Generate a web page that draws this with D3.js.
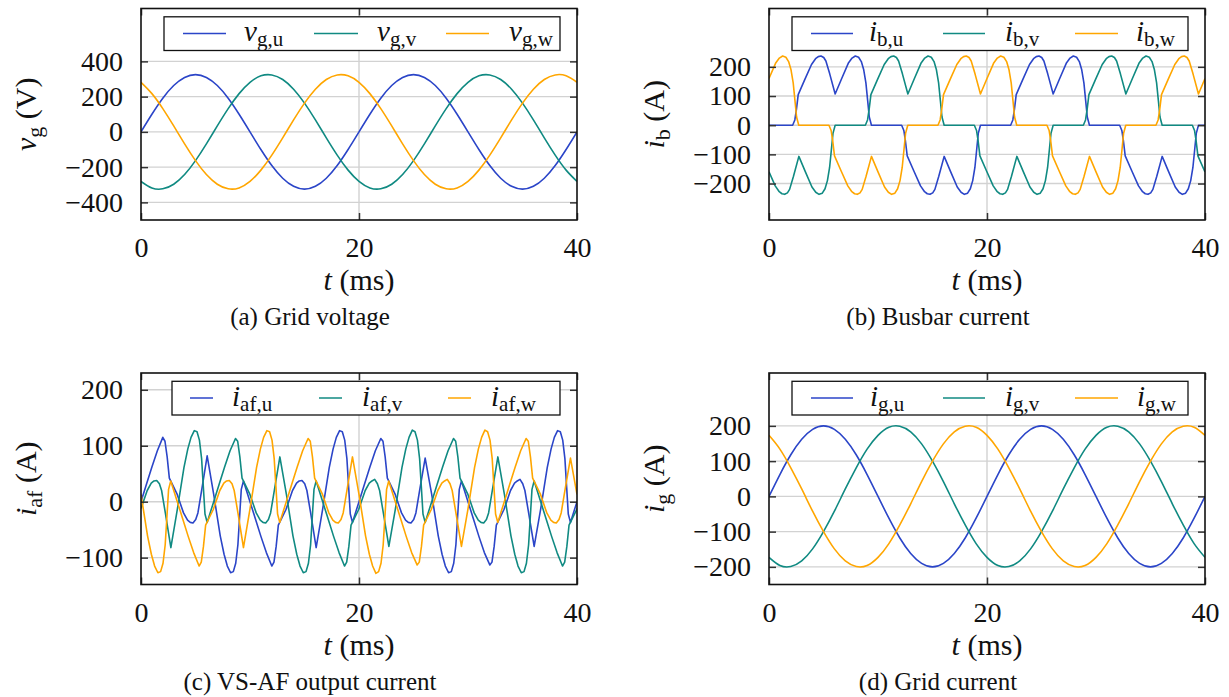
<!DOCTYPE html>
<html>
<head>
<meta charset="utf-8">
<script src="https://cdn.jsdelivr.net/npm/d3@7"></script>
<style>
  body { margin: 0; background: #fff; }
  svg { display: block; }
</style>
</head>
<body>
<svg id="chart" width="1229" height="697"></svg>
<script>
// time base (ms) for the sinusoidal panels
const tMs = [0,1,2,3,4,5,6,7,8,9,10,11,12,13,14,15,16,17,18,19,20,
             21,22,23,24,25,26,27,28,29,30,31,32,33,34,35,36,37,38,39,40];

// (a) grid voltage, V
const vgU = [0,100,191,263,309,325,309,263,191,100,0,-100,-191,-263,-309,-325,-309,-263,-191,-100,
             0,100,191,263,309,325,309,263,191,100,0,-100,-191,-263,-309,-325,-309,-263,-191,-100,0];
const vgV = [-281,-318,-323,-297,-242,-163,-68,34,132,217,281,318,323,297,242,163,68,-34,-132,-217,
             -281,-318,-323,-297,-242,-163,-68,34,132,217,281,318,323,297,242,163,68,-34,-132,-217,-281];
const vgW = [281,217,132,34,-68,-163,-242,-297,-323,-318,-281,-217,-132,-34,68,163,242,297,323,318,
             281,217,132,34,-68,-163,-242,-297,-323,-318,-281,-217,-132,-34,68,163,242,297,323,318,281];

// (d) grid current, A
const igU = [0,62,118,162,190,200,190,162,118,62,0,-62,-118,-162,-190,-200,-190,-162,-118,-62,
             0,62,118,162,190,200,190,162,118,62,0,-62,-118,-162,-190,-200,-190,-162,-118,-62,0];
const igV = [-173,-196,-199,-183,-149,-100,-42,21,81,134,173,196,199,183,149,100,42,-21,-81,-134,
             -173,-196,-199,-183,-149,-100,-42,21,81,134,173,196,199,183,149,100,42,-21,-81,-134,-173];
const igW = [173,134,81,21,-42,-100,-149,-183,-199,-196,-173,-134,-81,-21,42,100,149,183,199,196,
             173,134,81,21,-42,-100,-149,-183,-199,-196,-173,-134,-81,-21,42,100,149,183,199,196,173];

// (b) busbar current, [t (ms), A]
const ibU = [[0,0],[2.17,0],[2.37,18],[2.52,55],[2.68,105],[3.30,158],[3.90,208],[4.27,228],[4.52,235],[4.77,237],[5.02,232],[5.22,220],[5.57,176],[6.07,107],[6.67,160],[7.27,212],[7.62,230],[7.92,237],[8.22,233],[8.47,218],[8.69,190],[8.89,145],[9.05,85],[9.20,28],[9.40,0],
  [12.17,0],[12.37,-18],[12.52,-55],[12.68,-105],[13.30,-158],[13.90,-208],[14.27,-228],[14.52,-235],[14.77,-237],[15.02,-232],[15.22,-220],[15.57,-176],[16.07,-107],[16.67,-160],[17.27,-212],[17.62,-230],[17.92,-237],[18.22,-233],[18.47,-218],[18.69,-190],[18.89,-145],[19.05,-85],[19.20,-28],[19.40,0],
  [22.17,0],[22.37,18],[22.52,55],[22.68,105],[23.30,158],[23.90,208],[24.27,228],[24.52,235],[24.77,237],[25.02,232],[25.22,220],[25.57,176],[26.07,107],[26.67,160],[27.27,212],[27.62,230],[27.92,237],[28.22,233],[28.47,218],[28.69,190],[28.89,145],[29.05,85],[29.20,28],[29.40,0],
  [32.17,0],[32.37,-18],[32.52,-55],[32.68,-105],[33.30,-158],[33.90,-208],[34.27,-228],[34.52,-235],[34.77,-237],[35.02,-232],[35.22,-220],[35.57,-176],[36.07,-107],[36.67,-160],[37.27,-212],[37.62,-230],[37.92,-237],[38.22,-233],[38.47,-218],[38.69,-190],[38.89,-145],[39.05,-85],[39.20,-28],[39.40,0],[40,0]];
const ibV = [[0,-160],[0.57,-208],[0.94,-228],[1.19,-235],[1.44,-237],[1.69,-232],[1.89,-220],[2.24,-176],[2.74,-107],[3.34,-160],[3.94,-212],[4.29,-230],[4.59,-237],[4.89,-233],[5.14,-218],[5.36,-190],[5.56,-145],[5.72,-85],[5.87,-28],[6.07,0],
  [8.84,0],[9.04,18],[9.19,55],[9.35,105],[9.97,158],[10.57,208],[10.94,228],[11.19,235],[11.44,237],[11.69,232],[11.89,220],[12.24,176],[12.74,107],[13.34,160],[13.94,212],[14.29,230],[14.59,237],[14.89,233],[15.14,218],[15.36,190],[15.56,145],[15.72,85],[15.87,28],[16.07,0],
  [18.84,0],[19.04,-18],[19.19,-55],[19.35,-105],[19.97,-158],[20.57,-208],[20.94,-228],[21.19,-235],[21.44,-237],[21.69,-232],[21.89,-220],[22.24,-176],[22.74,-107],[23.34,-160],[23.94,-212],[24.29,-230],[24.59,-237],[24.89,-233],[25.14,-218],[25.36,-190],[25.56,-145],[25.72,-85],[25.87,-28],[26.07,0],
  [28.84,0],[29.04,18],[29.19,55],[29.35,105],[29.97,158],[30.57,208],[30.94,228],[31.19,235],[31.44,237],[31.69,232],[31.89,220],[32.24,176],[32.74,107],[33.34,160],[33.94,212],[34.29,230],[34.59,237],[34.89,233],[35.14,218],[35.36,190],[35.56,145],[35.72,85],[35.87,28],[36.07,0],
  [38.84,0],[39.04,-18],[39.19,-55],[39.35,-105],[39.97,-158],[40,-160]];
const ibW = [[0,160],[0.60,212],[0.95,230],[1.25,237],[1.55,233],[1.80,218],[2.02,190],[2.22,145],[2.38,85],[2.53,28],[2.73,0],
  [5.50,0],[5.70,-18],[5.85,-55],[6.01,-105],[6.63,-158],[7.23,-208],[7.60,-228],[7.85,-235],[8.10,-237],[8.35,-232],[8.55,-220],[8.90,-176],[9.40,-107],[10.00,-160],[10.60,-212],[10.95,-230],[11.25,-237],[11.55,-233],[11.80,-218],[12.02,-190],[12.22,-145],[12.38,-85],[12.53,-28],[12.73,0],
  [15.50,0],[15.70,18],[15.85,55],[16.01,105],[16.63,158],[17.23,208],[17.60,228],[17.85,235],[18.10,237],[18.35,232],[18.55,220],[18.90,176],[19.40,107],[20.00,160],[20.60,212],[20.95,230],[21.25,237],[21.55,233],[21.80,218],[22.02,190],[22.22,145],[22.38,85],[22.53,28],[22.73,0],
  [25.50,0],[25.70,-18],[25.85,-55],[26.01,-105],[26.63,-158],[27.23,-208],[27.60,-228],[27.85,-235],[28.10,-237],[28.35,-232],[28.55,-220],[28.90,-176],[29.40,-107],[30.00,-160],[30.60,-212],[30.95,-230],[31.25,-237],[31.55,-233],[31.80,-218],[32.02,-190],[32.22,-145],[32.38,-85],[32.53,-28],[32.73,0],
  [35.50,0],[35.70,18],[35.85,55],[36.01,105],[36.63,158],[37.23,208],[37.60,228],[37.85,235],[38.10,237],[38.35,232],[38.55,220],[38.90,176],[39.40,107],[40,160]];

// (c) VS-AF output current, [t (ms), A]
const iafU = [[0,0],[0.5,31],[1,62],[1.5,91],[2,115],[2.2,108],[2.4,80],[2.6,42],[3.3,14],[3.9,-20],[4.27,-33],[4.52,-37],[4.77,-38],[5.02,-32],[5.22,-20],[5.57,21],[6.07,82],[6.67,13],[7.27,-61],[7.62,-94],[7.92,-115],[8.22,-127],[8.47,-125],[8.69,-110],[8.89,-77],[9.05,-26],[9.2,22],[9.4,37],[10,0],[10.5,-31],[11,-62],[11.5,-91],[12,-115],[12.2,-108],[12.4,-80],[12.6,-42],[13.3,-14],[13.9,20],[14.27,33],[14.52,37],[14.77,38],[15.02,32],[15.22,20],[15.57,-21],[16.07,-82],[16.67,-13],[17.27,61],[17.62,94],[17.92,115],[18.22,127],[18.47,125],[18.69,110],[18.89,77],[19.05,26],[19.2,-22],[19.4,-37],[20,0],
  [20.5,31],[21,62],[21.5,91],[22,113],[22.2,108],[22.4,80],[22.6,42],[23.3,14],[23.9,-20],[24.27,-33],[24.52,-37],[24.77,-38],[25.02,-32],[25.22,-20],[25.57,21],[26.07,78],[26.67,13],[27.27,-61],[27.62,-94],[27.92,-115],[28.22,-127],[28.47,-125],[28.69,-110],[28.89,-77],[29.05,-26],[29.2,22],[29.4,37],[30,0],[30.5,-31],[31,-62],[31.5,-91],[32,-113],[32.2,-108],[32.4,-80],[32.6,-42],[33.3,-14],[33.9,20],[34.27,33],[34.52,37],[34.77,40],[35.02,32],[35.22,20],[35.57,-21],[36.07,-80],[36.67,-13],[37.27,61],[37.62,94],[37.92,115],[38.22,127],[38.47,125],[38.69,110],[38.89,77],[39.05,26],[39.2,-22],[39.4,-37],[40,0]];
const iafV = [[0,-12],[0.57,20],[0.94,33],[1.19,37],[1.44,38],[1.69,32],[1.89,20],[2.24,-21],[2.74,-82],[3.34,-13],[3.94,61],[4.29,94],[4.59,115],[4.89,127],[5.14,125],[5.36,110],[5.56,77],[5.72,26],[5.87,-22],[6.07,-37],[6.67,0],[7.17,31],[7.67,62],[8.17,91],[8.67,113],[8.87,108],[9.07,80],[9.27,42],[9.97,14],[10.57,-20],[10.94,-33],[11.19,-37],[11.44,-38],[11.69,-32],[11.89,-20],[12.24,21],[12.74,80],[13.34,13],[13.94,-61],[14.29,-94],[14.59,-115],[14.89,-127],[15.14,-125],[15.36,-110],[15.56,-77],[15.72,-26],[15.87,22],[16.07,37],[16.67,0],[17.17,-31],[17.67,-62],[18.17,-91],[18.67,-115],[18.87,-108],[19.07,-80],[19.27,-42],[19.97,-14],
  [20.57,20],[20.94,33],[21.19,37],[21.44,40],[21.69,32],[21.89,20],[22.24,-21],[22.74,-80],[23.34,-13],[23.94,61],[24.29,94],[24.59,115],[24.89,128],[25.14,125],[25.36,110],[25.56,77],[25.72,26],[25.87,-22],[26.07,-37],[26.67,0],[27.17,31],[27.67,62],[28.17,91],[28.67,113],[28.87,108],[29.07,80],[29.27,42],[29.97,14],[30.57,-20],[30.94,-33],[31.19,-37],[31.44,-38],[31.69,-32],[31.89,-20],[32.24,21],[32.74,80],[33.34,13],[33.94,-61],[34.29,-94],[34.59,-115],[34.89,-127],[35.14,-125],[35.36,-110],[35.56,-77],[35.72,-26],[35.87,22],[36.07,37],[36.67,0],[37.17,-31],[37.67,-62],[38.17,-91],[38.67,-115],[38.87,-108],[39.07,-80],[39.27,-42],[39.97,-14],[40,-12]];
const iafW = [[0,13],[0.60,-61],[0.95,-94],[1.25,-115],[1.55,-127],[1.80,-125],[2.02,-110],[2.22,-77],[2.38,-26],[2.53,22],[2.73,37],[3.33,0],[3.83,-31],[4.33,-62],[4.83,-91],[5.33,-115],[5.53,-108],[5.73,-80],[5.93,-42],[6.63,-14],[7.23,20],[7.60,33],[7.85,37],[8.10,38],[8.35,32],[8.55,20],[8.90,-21],[9.40,-82],[10.00,-13],[10.60,61],[10.95,94],[11.25,115],[11.55,127],[11.80,125],[12.02,110],[12.22,77],[12.38,26],[12.53,-22],[12.73,-37],[13.33,0],[13.83,31],[14.33,62],[14.83,91],[15.33,113],[15.53,108],[15.73,80],[15.93,42],[16.63,14],[17.23,-20],[17.60,-33],[17.85,-37],[18.10,-38],[18.35,-32],[18.55,-20],[18.90,21],[19.40,80],[20.00,13],
  [20.60,-61],[20.95,-94],[21.25,-115],[21.55,-128],[21.80,-125],[22.02,-110],[22.22,-77],[22.38,-26],[22.53,22],[22.73,37],[23.33,0],[23.83,-31],[24.33,-62],[24.83,-91],[25.33,-113],[25.53,-108],[25.73,-80],[25.93,-42],[26.63,-14],[27.23,20],[27.60,33],[27.85,37],[28.10,40],[28.35,32],[28.55,20],[28.90,-21],[29.40,-80],[30.00,-13],[30.60,61],[30.95,94],[31.25,115],[31.55,128],[31.80,125],[32.02,110],[32.22,77],[32.38,26],[32.53,-22],[32.73,-37],[33.33,0],[33.83,31],[34.33,62],[34.83,91],[35.33,113],[35.53,108],[35.73,80],[35.93,42],[36.63,14],[37.23,-20],[37.60,-33],[37.85,-37],[38.10,-38],[38.35,-32],[38.55,-20],[38.90,21],[39.40,78],[40,13]];

const xTicks = [0, 20, 40];
const phaseColors = ["#2b45c8", "#108a82", "#ffa600"];
const serif = "'Liberation Serif', 'Times New Roman', Times, serif";

const svg = d3.select("#chart").attr("font-family", serif);
const panelW = 436, panelH = 211.5;

function fmtTick(d) {
    return d < 0 ? "\u2212" + Math.abs(d) : String(d);
}

// italic symbol + upright subscript (+ optional trailing text)
function mathLabel(text, sym, sub, rest, size, subSize, shift) {
    text.attr("font-size", size).attr("font-family", serif).attr("fill", "#111");
    text.append("tspan").attr("font-style", "italic").text(sym);
    text.append("tspan").attr("font-size", subSize).attr("dy", shift).text(sub);
    if (rest) {
        text.append("tspan").attr("dy", -shift).text(rest);
    }
    return text;
}

function drawPanel(p) {
    const g = svg.append("g");
    const x = d3.scaleLinear().domain([0, 40]).range([p.left, p.left + panelW]);
    const y = d3.scaleLinear().domain(p.yDomain).range([p.top + panelH, p.top]);
    const bottom = p.top + panelH;

    // grid
    g.append("g").selectAll("line").data(p.yTicks).join("line")
        .attr("x1", p.left).attr("x2", p.left + panelW)
        .attr("y1", d => y(d)).attr("y2", d => y(d))
        .attr("stroke", "#d2d2d2").attr("stroke-width", 1.4);
    g.append("line")
        .attr("x1", x(20)).attr("x2", x(20))
        .attr("y1", p.top).attr("y2", bottom)
        .attr("stroke", "#d2d2d2").attr("stroke-width", 1.4);

    // series
    const clipId = "clip-" + p.id;
    svg.append("clipPath").attr("id", clipId).append("rect")
        .attr("x", p.left).attr("y", p.top).attr("width", panelW).attr("height", panelH);
    const line = d3.line()
        .x(d => x(d[0]))
        .y(d => y(d[1]))
        .curve(p.curve);
    g.append("g").attr("clip-path", "url(#" + clipId + ")")
        .selectAll("path").data(p.series).join("path")
        .attr("d", d => line(d))
        .attr("fill", "none")
        .attr("stroke", (d, i) => phaseColors[i])
        .attr("stroke-width", 1.6)
        .attr("stroke-linejoin", "round");

    // axes: inward ticks, labels only on left and bottom
    const yAxisL = g.append("g").attr("transform", "translate(" + p.left + ",0)")
        .call(d3.axisLeft(y).tickValues(p.yTicks).tickSize(-7).tickPadding(18).tickFormat(fmtTick));
    const yAxisR = g.append("g").attr("transform", "translate(" + (p.left + panelW) + ",0)")
        .call(d3.axisRight(y).tickValues(p.yTicks).tickSize(-7).tickFormat(""));
    const xAxisB = g.append("g").attr("transform", "translate(0," + bottom + ")")
        .call(d3.axisBottom(x).tickValues(xTicks).tickSize(-7).tickPadding(17.5).tickFormat(d3.format("d")));
    const xAxisT = g.append("g").attr("transform", "translate(0," + p.top + ")")
        .call(d3.axisTop(x).tickValues(xTicks).tickSize(-7).tickFormat(""));
    [yAxisL, yAxisR, xAxisB, xAxisT].forEach(a => {
        a.select(".domain").remove();
        a.attr("font-family", serif).attr("font-size", 28);
        a.selectAll(".tick line").attr("stroke", "#333").attr("stroke-width", 1.5);
        a.selectAll(".tick text").attr("font-family", serif).attr("font-size", 28).attr("fill", "#111");
    });

    // legend
    const lg = p.legend;
    const ly0 = p.top + 8.3, ly1 = p.top + 42;
    const lineY = p.top + 25;
    g.append("rect")
        .attr("x", lg.x0).attr("y", ly0)
        .attr("width", lg.x1 - lg.x0).attr("height", ly1 - ly0)
        .attr("fill", "#fff").attr("stroke", "#111").attr("stroke-width", 1.3);
    p.legSub.forEach((s, i) => {
        g.append("line")
            .attr("x1", lg.lines[i][0]).attr("x2", lg.lines[i][1])
            .attr("y1", lineY).attr("y2", lineY)
            .attr("stroke", phaseColors[i]).attr("stroke-width", 1.5);
        mathLabel(g.append("text").attr("x", lg.labels[i]).attr("y", p.top + 32.5),
            p.sym, s, null, 29, 21, 5);
    });

    // frame
    g.append("rect")
        .attr("x", p.left).attr("y", p.top)
        .attr("width", panelW).attr("height", panelH)
        .attr("fill", "none").attr("stroke", "#111").attr("stroke-width", 1.6);

    // axis titles and caption
    const cx = p.left + panelW / 2;
    const tl = g.append("text").attr("x", cx).attr("y", bottom + 70)
        .attr("text-anchor", "middle").attr("font-size", 30)
        .attr("font-family", serif).attr("fill", "#111");
    tl.append("tspan").attr("font-style", "italic").text("t");
    tl.append("tspan").text("\u00a0(ms)");

    mathLabel(g.append("text")
            .attr("transform", "translate(" + (p.left - 105) + "," + (p.top + panelH / 2) + ") rotate(-90)")
            .attr("text-anchor", "middle"),
        p.sym, p.ySub, "\u00a0" + p.unit, 30, 22, 6);

    // caption is centred on the whole subfigure, y label included
    g.append("text").attr("x", cx - 49).attr("y", bottom + 105)
        .attr("text-anchor", "middle").attr("font-size", 25)
        .attr("font-family", serif).attr("fill", "#111")
        .text(p.caption);
}

const toPairs = vals => tMs.map((t, i) => [t, vals[i]]);

const panels = [
    {id: "a", left: 141, top: 8.5, yDomain: [-500, 700], yTicks: [-400, -200, 0, 200, 400],
     sym: "v", ySub: "g", unit: "(V)", legSub: ["g,u", "g,v", "g,w"], caption: "(a) Grid voltage",
     series: [toPairs(vgU), toPairs(vgV), toPairs(vgW)], curve: d3.curveNatural,
     legend: {x0: 164, x1: 560, lines: [[183, 226], [314, 358], [446, 489]], labels: [244, 377, 509]}},
    {id: "b", left: 769, top: 8.5, yDomain: [-325, 400], yTicks: [-200, -100, 0, 100, 200],
     sym: "i", ySub: "b", unit: "(A)", legSub: ["b,u", "b,v", "b,w"], caption: "(b) Busbar current",
     series: [ibU, ibV, ibW], curve: d3.curveLinear,
     legend: {x0: 792, x1: 1188, lines: [[811, 853], [943, 985], [1075, 1118]], labels: [869, 1005, 1136]}},
    {id: "c", left: 141, top: 373, yDomain: [-148, 230], yTicks: [-100, 0, 100, 200],
     sym: "i", ySub: "af", unit: "(A)", legSub: ["af,u", "af,v", "af,w"], caption: "(c) VS-AF output current",
     series: [iafU, iafV, iafW], curve: d3.curveLinear,
     legend: {x0: 172, x1: 560, lines: [[190, 213], [319, 342], [448, 471]], labels: [232, 362, 491]}},
    {id: "d", left: 769, top: 373, yDomain: [-250, 350], yTicks: [-200, -100, 0, 100, 200],
     sym: "i", ySub: "g", unit: "(A)", legSub: ["g,u", "g,v", "g,w"], caption: "(d) Grid current",
     series: [toPairs(igU), toPairs(igV), toPairs(igW)], curve: d3.curveNatural,
     legend: {x0: 792, x1: 1188, lines: [[811, 853], [943, 985], [1075, 1118]], labels: [870, 1005, 1137]}}
];

panels.forEach(drawPanel);
</script>
</body>
</html>
